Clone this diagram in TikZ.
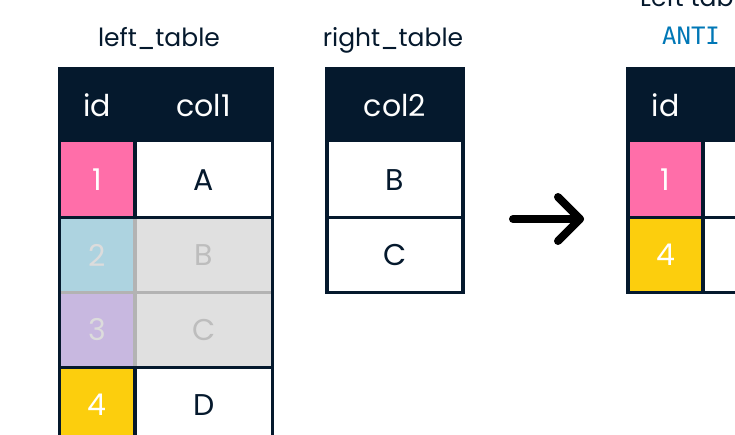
\documentclass[tikz,border=0pt]{standalone}
\usepackage{fontspec}
\setmainfont{Poppins}
\newfontfamily\codefont{DejaVu Sans Mono}
\usepackage{tikz}
\definecolor{Navy}{HTML}{05192D}
\definecolor{Rose}{HTML}{FF6EA9}
\definecolor{Sky}{HTML}{ADD3E0}
\definecolor{Lilac}{HTML}{C8B8E0}
\definecolor{Gold}{HTML}{FCCE0D}
\definecolor{Fog}{HTML}{E0E0E0}
\definecolor{Rule}{HTML}{B3B3B3}
\definecolor{Ash}{HTML}{BDBDBD}
\definecolor{Mist}{HTML}{DCDCDC}
\definecolor{Code}{HTML}{0077B6}
\tikzstyle{Cell}=[rectangle, inner sep=0pt, minimum height=75pt, font=\fontsize{30}{36}\selectfont, text=Navy, fill=white]
\tikzstyle{Id}=[Cell, minimum width=75.5pt, text=white]
\tikzstyle{Val}=[Cell, minimum width=137.5pt]
\tikzstyle{Head}=[minimum height=74pt, fill=Navy, text=white]
\tikzstyle{Pink}=[fill=Rose]
\tikzstyle{Blue}=[fill=Sky, text=Mist]
\tikzstyle{Purple}=[fill=Lilac, text=Mist]
\tikzstyle{Yellow}=[fill=Gold]
\tikzstyle{Grey}=[fill=Fog, text=Ash]
\tikzstyle{Frame}=[draw=Navy, line width=3.5pt]
\tikzstyle{Faint}=[draw=Rule, line width=3.5pt]
\tikzstyle{Title}=[font=\fontsize{25}{30}\selectfont, text=Navy, anchor=base, inner sep=0pt]
\tikzstyle{Line}=[line width=8pt, line cap=round, line join=round]

\begin{document}
\begin{tikzpicture}[x=1pt, y=-1pt]

    \useasboundingbox (0,0) rectangle (735,435);
    \clip (0,0) rectangle (735,435);

    \node[Title] (ltitle) at (159, 47) {left\_table};
    \node[Title] (rtitle) at (393, 47) {right\_table};
    \node[Title, anchor=base west] (otitle) at (640, 7) {Left table};
    \node[Title, font=\codefont\fontsize{24}{28}\selectfont, text=Code] (ojoin) at (691, 45) {ANTI};

    % left_table
    \node[Id,Head] (lhid) at (97.25, 105.5) {id};
    \node[Val,Head] (lhc) at (203.75, 105.5) {col1};
    \node[Id,Pink] (l1id) at (97.25, 180) {1};
    \node[Val] (l1c) at (203.75, 180) {A};
    \node[Id,Blue] (l2id) at (97.25, 255) {2};
    \node[Val,Grey] (l2c) at (203.75, 255) {B};
    \node[Id,Purple] (l3id) at (97.25, 330) {3};
    \node[Val,Grey] (l3c) at (203.75, 330) {C};
    \node[Id,Yellow] (l4id) at (97.25, 405) {4};
    \node[Val] (l4c) at (203.75, 405) {D};

    % right_table
    \node[Val,Head,minimum width=136pt] (rhc) at (395, 105.5) {col2};
    \node[Val,minimum width=136pt] (r1c) at (395, 180) {B};
    \node[Val,minimum width=136pt] (r2c) at (395, 255) {C};

    % result
    \node[Id,Head,minimum width=75pt] (ohid) at (665.5, 105.5) {id};
    \node[Val,Head] (ohc) at (771.75, 105.5) {};
    \node[Id,Pink,minimum width=75pt] (o1id) at (665.5, 180) {1};
    \node[Val] (o1c) at (771.75, 180) {};
    \node[Id,Yellow,minimum width=75pt] (o2id) at (665.5, 255) {4};
    \node[Val] (o2c) at (771.75, 255) {};

    \draw[Faint] (l2id.north east) -- (l3id.south east);
    \draw[Faint] (l2id.south west) -- (l2c.south east);

    \draw[Frame] (lhid.north west) rectangle (l4c.south east);
    \draw[Frame] (l1id.north east) -- (l1id.south east);
    \draw[Frame] (l4id.north east) -- (l4id.south east);
    \draw[Frame] (l1id.south west) -- (l1c.south east);
    \draw[Frame] (l3id.south west) -- (l3c.south east);

    \draw[Frame] (rhc.north west) rectangle (r2c.south east);
    \draw[Frame] (r1c.south west) -- (r1c.south east);

    \draw[Frame] (ohid.north west) rectangle (o2c.south east);
    \draw[Frame] (o1id.north east) -- (o2id.south east);
    \draw[Frame] (o1id.south west) -- (o1c.south east);

    \coordinate (tail) at (513, 219);
    \coordinate (tip) at (580, 219);
    \draw[Line] (tail) -- (tip);
    \draw[Line] (tip) ++(-22,-22) -- (tip) -- ++(-22,22);

\end{tikzpicture}
\end{document}
